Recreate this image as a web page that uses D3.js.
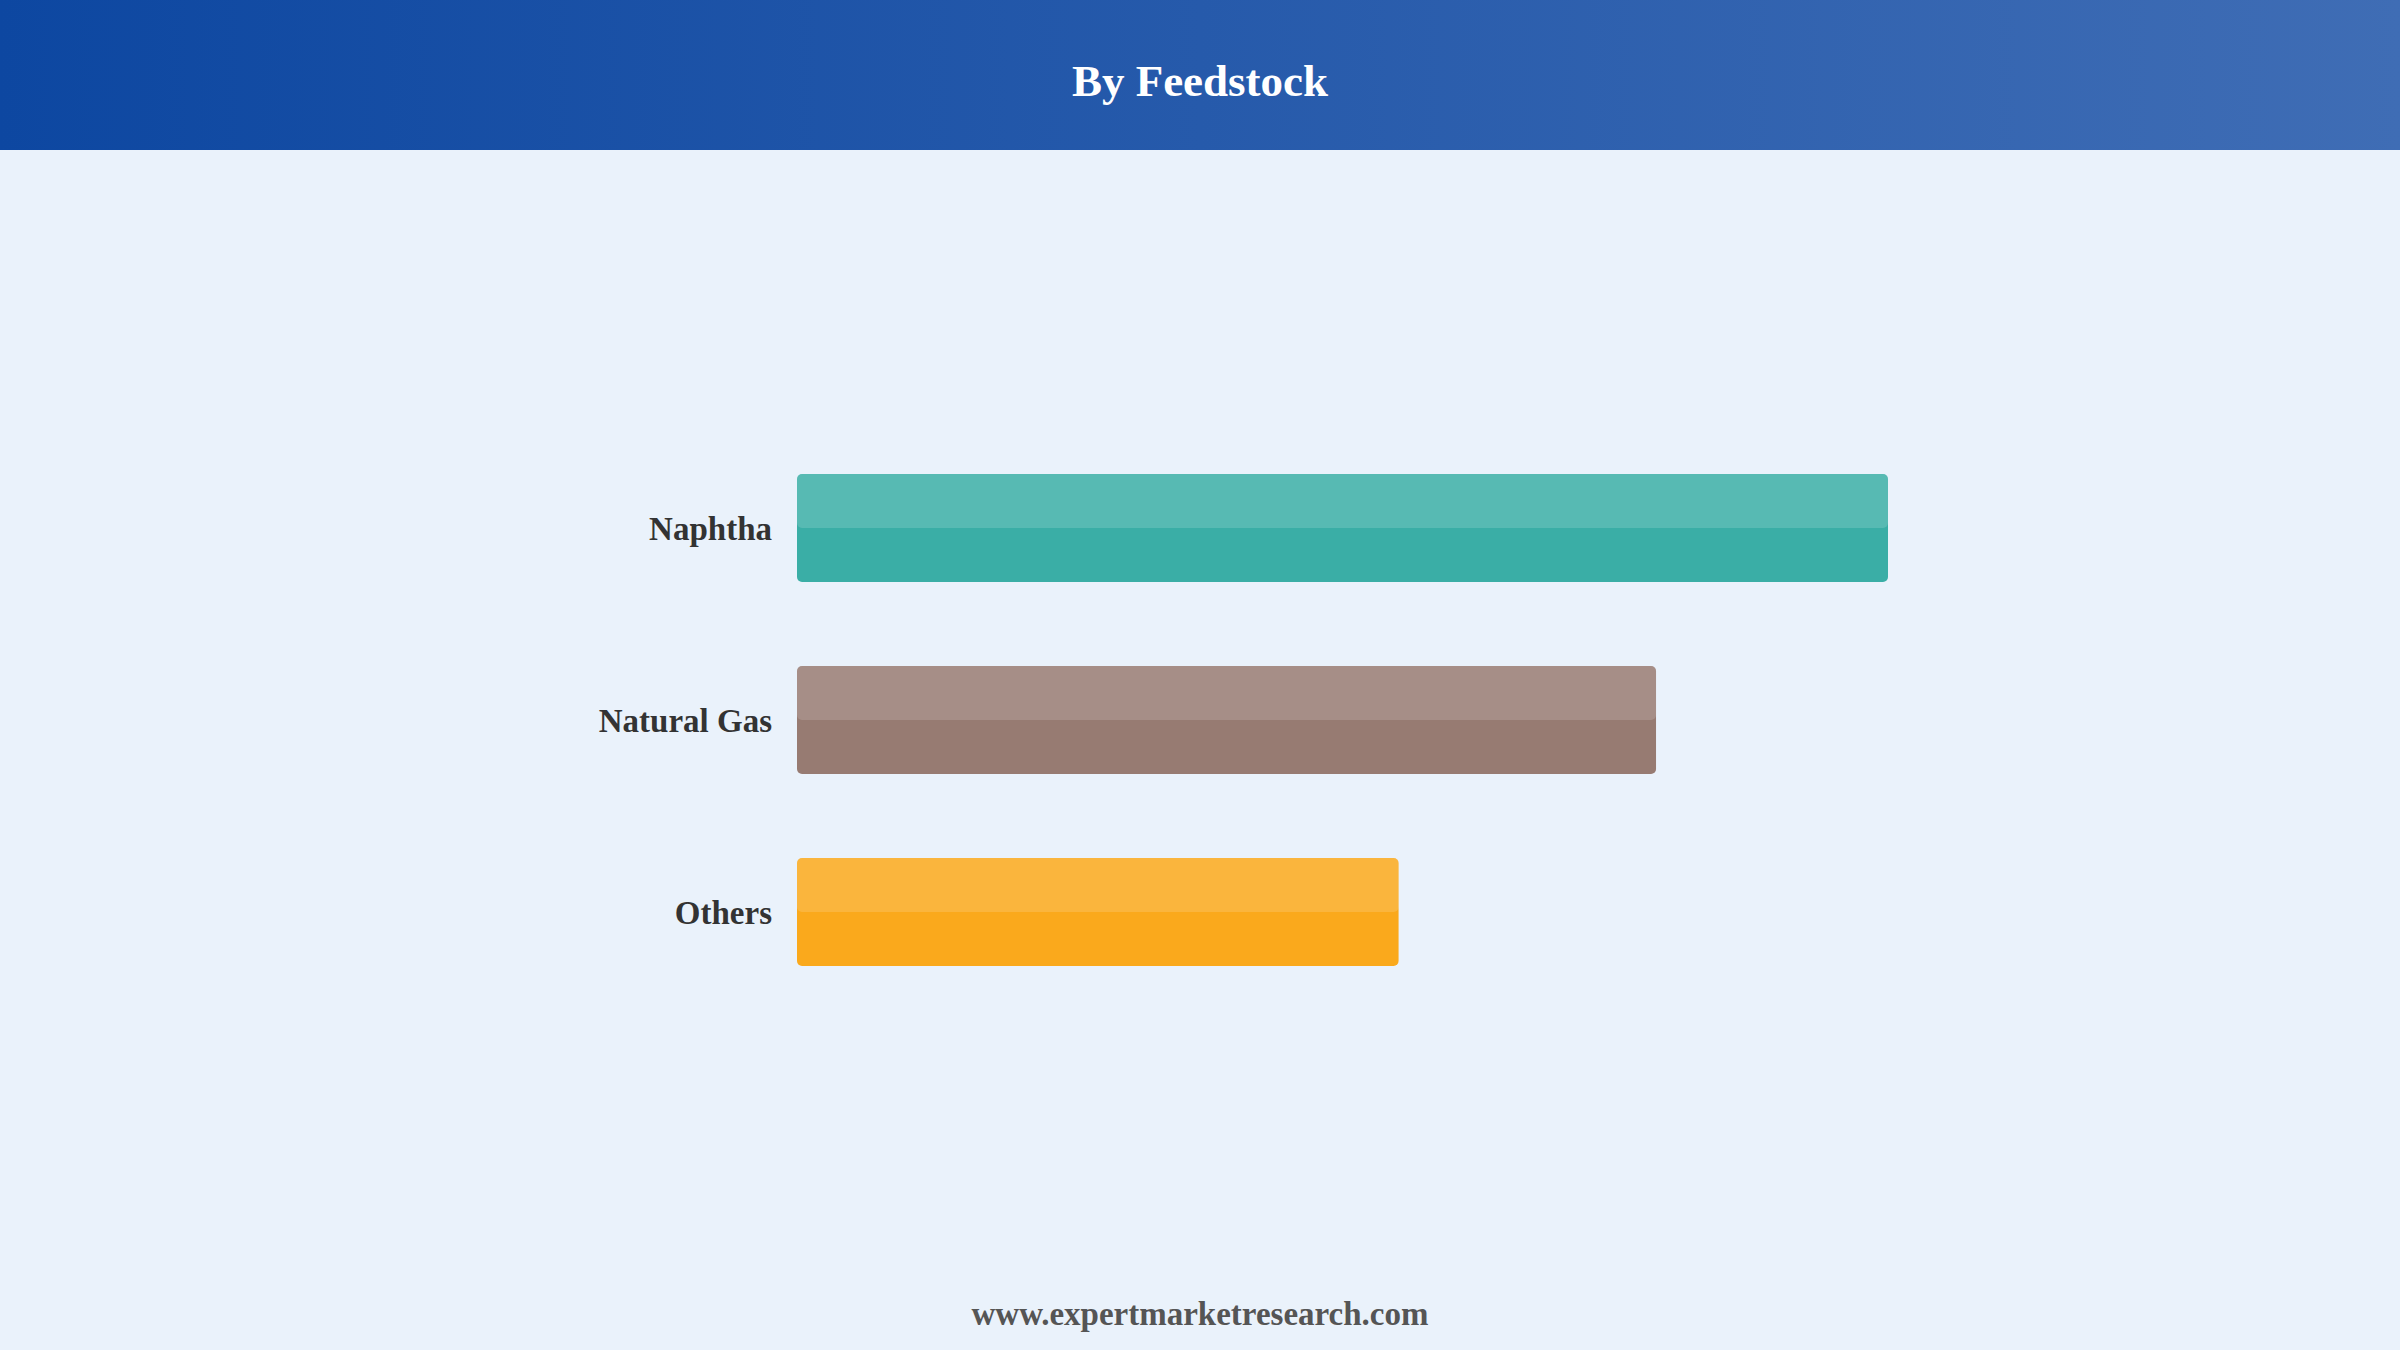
<!DOCTYPE html>
<html>
<head>
<meta charset="utf-8">
<script src="https://cdn.jsdelivr.net/npm/d3@7"></script>
<style>
  html, body { margin: 0; padding: 0; background: #eaf2fb; }
  svg { display: block; }
</style>
</head>
<body>
<svg id="chart" width="2400" height="1350"></svg>
<script>
const categories = ["Naphtha", "Natural Gas", "Others"];
const values = [42.8, 33.7, 23.6];
const colors = ["#3aaea6", "#977b72", "#faa91c"];
const title = "By Feedstock";
const footer = "www.expertmarketresearch.com";

const W = 2400, H = 1350;
const svg = d3.select("#chart");
const serif = "'Times New Roman', 'Liberation Serif', serif";

const defs = svg.append("defs");
const grad = defs.append("linearGradient").attr("id", "hdr").attr("x1", "0%").attr("x2", "100%");
grad.append("stop").attr("offset", "0%").attr("stop-color", "#0d47a1");
grad.append("stop").attr("offset", "100%").attr("stop-color", "#3f6db5");

svg.append("rect").attr("width", W).attr("height", H).attr("fill", "#eaf2fb");
svg.append("rect").attr("width", W).attr("height", 150).attr("fill", "url(#hdr)");
svg.append("text").attr("x", W / 2).attr("y", 96).attr("text-anchor", "middle")
  .attr("font-family", serif).attr("font-weight", "bold").attr("font-size", 45)
  .attr("fill", "#ffffff").text(title);

const left = 797, plotRight = 1888;
const x = d3.scaleLinear().domain([0, d3.max(values)]).range([left, plotRight]);
const y = d3.scaleBand().domain(categories).range([432, 1008]).paddingInner(0.4375).paddingOuter(0.2188);

const data = categories.map((c, i) => ({ c, v: values[i], col: colors[i] }));
const g = svg.append("g");
const bars = g.selectAll("g.bar").data(data).join("g").attr("class", "bar");
bars.append("rect")
  .attr("x", x(0)).attr("y", d => y(d.c))
  .attr("width", d => x(d.v) - x(0)).attr("height", y.bandwidth())
  .attr("rx", 5).attr("fill", d => d.col);
bars.append("rect")
  .attr("x", x(0)).attr("y", d => y(d.c))
  .attr("width", d => x(d.v) - x(0)).attr("height", y.bandwidth() / 2)
  .attr("rx", 5).attr("fill", "#ffffff").attr("fill-opacity", 0.15);

bars.append("text")
  .attr("x", x(0) - 25).attr("y", d => y(d.c) + y.bandwidth() / 2)
  .attr("dy", "0.37em").attr("text-anchor", "end")
  .attr("font-family", serif).attr("font-weight", "bold").attr("font-size", 33)
  .attr("fill", "#333333").text(d => d.c);

svg.append("text").attr("x", W / 2).attr("y", 1325).attr("text-anchor", "middle")
  .attr("font-family", serif).attr("font-weight", "bold").attr("font-size", 33)
  .attr("fill", "#555555").text(footer);
</script>
</body>
</html>
